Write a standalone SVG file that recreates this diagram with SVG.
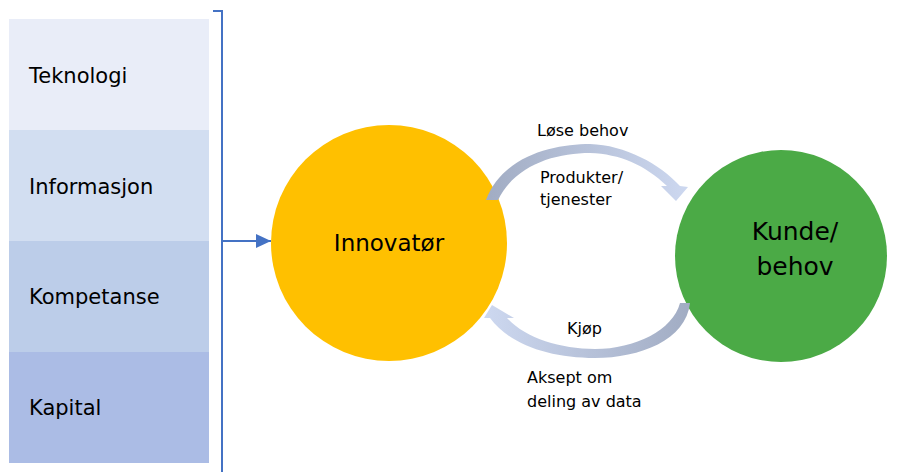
<svg xmlns="http://www.w3.org/2000/svg" width="907" height="472" viewBox="0 0 907 472">
<defs>
<style>
.lbl{font-family:"DejaVu Sans","Liberation Sans",sans-serif;fill:#000;}
.side{font-size:21px;}
.small{font-size:16px;}
</style>
<linearGradient id="gTop" x1="0" y1="0" x2="1" y2="0">
<stop offset="0" stop-color="#A1ACC3"/><stop offset="1" stop-color="#CDD8F0"/>
</linearGradient>
<linearGradient id="gBot" x1="1" y1="0" x2="0" y2="0">
<stop offset="0" stop-color="#A1ACC3"/><stop offset="1" stop-color="#CDD8F0"/>
</linearGradient>
<marker id="ah" markerWidth="16" markerHeight="16" refX="15" refY="8" orient="auto" markerUnits="userSpaceOnUse">
<path d="M0,1 L15,8 L0,15 z" fill="#4472C4"/>
</marker>
</defs>
<rect width="907" height="472" fill="#fff"/>
<g id="resources">
<g id="teknologi"><rect x="9" y="19" width="200" height="111" fill="#E9EDF8"/><text class="lbl side" x="29" y="83">Teknologi</text></g>
<g id="informasjon"><rect x="9" y="130" width="200" height="111" fill="#D2DEF1"/><text class="lbl side" x="29" y="194">Informasjon</text></g>
<g id="kompetanse"><rect x="9" y="241" width="200" height="111" fill="#BCCDE9"/><text class="lbl side" x="29" y="304">Kompetanse</text></g>
<g id="kapital"><rect x="9" y="352" width="200" height="111" fill="#ABBCE5"/><text class="lbl side" x="29" y="415">Kapital</text></g>
</g>
<g id="innovator"><circle cx="389" cy="243" r="118" fill="#FFC000"/><text class="lbl" x="389" y="251" font-size="23" text-anchor="middle">Innovatør</text></g>
<g id="kunde"><circle cx="781" cy="256" r="106" fill="#4BAA46"/><text class="lbl" x="795" y="240" font-size="25" text-anchor="middle">Kunde/</text><text class="lbl" x="795" y="275" font-size="25" text-anchor="middle">behov</text></g>
<g id="connectors">
<path d="M213,11 L222,11 L222,472" fill="none" stroke="#4472C4" stroke-width="2"/>
<line x1="222" y1="241" x2="271" y2="241" stroke="#4472C4" stroke-width="2" marker-end="url(#ah)"/>
<path d="M486,200 C503,155 555,144 590,144 C625,145 660,164 680,186 L688,187 L676,201 L661,186 L667,186 C645,165 620,154 590,153 C555,153 515,165 498,200 Z" fill="url(#gTop)"/>
<path d="M690,303 C686,340 640,358 595,358 C550,358 510,345 490,318 L484,318 L492,305 L514,318 L507,318 C525,338 560,349 595,349 C635,349 673,330 680,303 Z" fill="url(#gBot)"/>
</g>
<g id="labels">
<text class="lbl small" x="537" y="136">Løse behov</text>
<text class="lbl small" x="540" y="183">Produkter/</text>
<text class="lbl small" x="540" y="205">tjenester</text>
<text class="lbl small" x="567" y="334">Kjøp</text>
<text class="lbl small" x="527" y="383">Aksept om</text>
<text class="lbl small" x="527" y="407">deling av data</text>
</g>
</svg>
